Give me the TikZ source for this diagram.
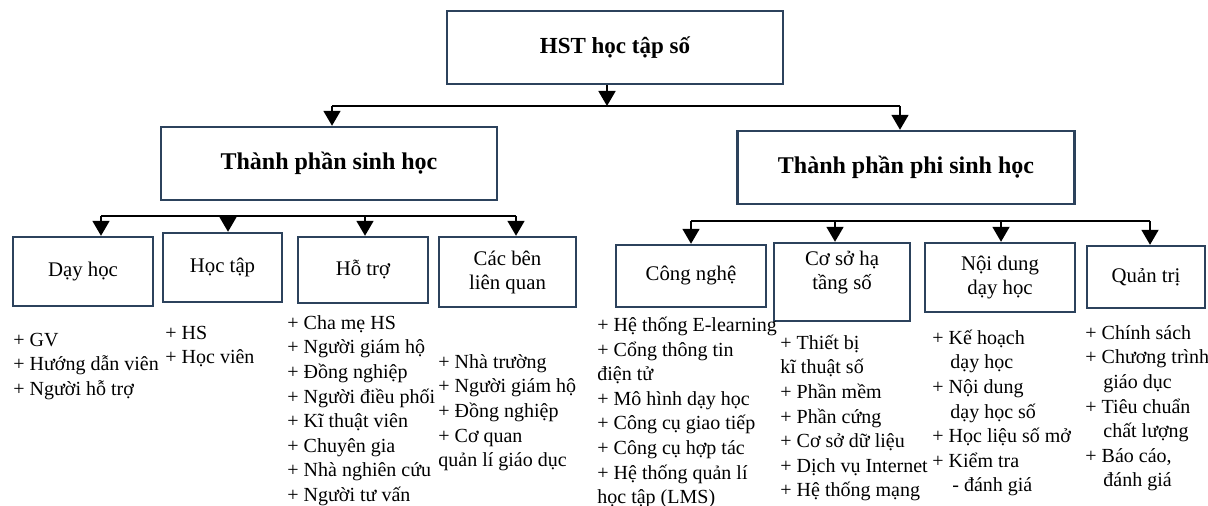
\documentclass[tikz,border=0pt]{standalone}
\usepackage{fontspec}
\setmainfont{Liberation Serif}
\usetikzlibrary{arrows.meta}
\definecolor{boxline}{RGB}{44,66,92}
\newcommand{\itemtop}{\rule{0pt}{10pt}}

\begin{document}
\begin{tikzpicture}[x=0.5pt, y=-0.5pt,
        box/.style={draw=boxline, line width=1.2pt, inner sep=0pt, align=center,
            font=\fontsize{10.4}{12}\selectfont},
        head/.style={box, font=\fontsize{12}{14}\selectfont\bfseries},
        link/.style={line width=0.9pt},
        arr/.style={link, -{Triangle[length=7.5pt, width=8.5pt]}},
        items/.style={anchor=north west, inner sep=0pt, align=left,
            font=\fontsize{10}{12.3}\selectfont}]
    \useasboundingbox (0,0) rectangle (1208,506);

    % levels 1 and 2
    \node[head, font=\fontsize{11.5}{14}\selectfont\bfseries, minimum width=168pt, minimum height=36.5pt] (top) at (615,47.5) {HST học tập số};
    \node[head, minimum width=168pt, minimum height=36.5pt] (bio) at (329,163.5) {Thành phần sinh học};
    \node[head, minimum width=168.5pt, minimum height=36.5pt] (abio) at (906,167.5) {Thành phần phi sinh học};

    % level 3, left
    \node[box, minimum width=70pt, minimum height=34.5pt] (day) at (83,271.5) {Dạy học};
    \node[box, minimum width=59.5pt, minimum height=34.5pt] (hoc) at (222.5,267.5) {Học tập};
    \node[box, minimum width=64.75pt, minimum height=33pt] (hotro) at (363,270) {Hỗ trợ};
    \node[box, minimum width=68.5pt, minimum height=35pt] (cacben) at (507.5,272) {Các bên\\liên quan};

    % level 3, right
    \node[box, minimum width=75.25pt, minimum height=31pt] (cong) at (691,276) {Công nghệ};
    \node[box, minimum width=67.75pt, minimum height=39pt] (coso) at (842,282) {Cơ sở hạ\\tầng số\\~};
    \node[box, minimum width=75pt, minimum height=34.5pt] (noidung) at (1000,277.5) {Nội dung\\dạy học};
    \node[box, minimum width=59.2pt, minimum height=31pt] (quantri) at (1146,277) {Quản trị};

    % connectors
    \coordinate (t0) at (607,106);
    \coordinate (tl) at (332,106);
    \coordinate (tr) at (900,106);
    \draw[arr] (top.south -| t0) -- (t0);
    \draw[link] (tl) -- (tr);
    \draw[arr] (tl) -- (tl |- bio.north);
    \draw[arr] (tr) -- (tr |- abio.north);

    \foreach \x/\n in {101/day, 228/hoc, 365/hotro, 516/cacben}
        \coordinate (b\n) at (\x,216);
    \draw[link] (bday) -- (bcacben);
    \foreach \n in {day, hoc, hotro, cacben}
        \draw[arr] (b\n) -- (b\n |- \n.north);

    \foreach \x/\n in {691/cong, 835/coso, 1001/noidung, 1150/quantri}
        \coordinate (b\n) at (\x,221);
    \draw[link] (bcong) -- (bquantri);
    \foreach \n in {cong, coso, noidung, quantri}
        \draw[arr] (b\n) -- (b\n |- \n.north);

    % item lists
    \node[items] (dayl) at (13,326) {\itemtop+ GV\\+ Hướng dẫn viên\\+ Người hỗ trợ};
    \node[items] (hocl) at (165,319) {\itemtop+ HS\\+ Học viên};
    \node[items] (hotrol) at (287,309) {\itemtop+ Cha mẹ HS\\+ Người giám hộ\\+ Đồng nghiệp\\+ Người điều phối\\+ Kĩ thuật viên\\+ Chuyên gia\\+ Nhà nghiên cứu\\+ Người tư vấn};
    \node[items] (cacbenl) at (438,348) {\itemtop+ Nhà trường\\+ Người giám hộ\\+ Đồng nghiệp\\+ Cơ quan\\quản lí giáo dục};
    \node[items] (congl) at (597,311) {\itemtop+ Hệ thống E-learning\\+ Cổng thông tin\\điện tử\\+ Mô hình dạy học\\+ Công cụ giao tiếp\\+ Công cụ hợp tác\\+ Hệ thống quản lí\\học tập (LMS)};
    \node[items] (cosol) at (780,329) {\itemtop+ Thiết bị\\kĩ thuật số\\+ Phần mềm\\+ Phần cứng\\+ Cơ sở dữ liệu\\+ Dịch vụ Internet\\+ Hệ thống mạng};
    \node[items] (noidungl) at (932,324) {\itemtop+ Kế hoạch\\\hspace*{9pt}dạy học\\+ Nội dung\\\hspace*{9pt}dạy học số\\+ Học liệu số mở\\+ Kiểm tra\\\hspace*{10pt}- đánh giá};
    \node[items] (quantril) at (1085,319) {\itemtop+ Chính sách\\+ Chương trình\\\hspace*{9pt}giáo dục\\+ Tiêu chuẩn\\\hspace*{9pt}chất lượng\\+ Báo cáo,\\\hspace*{9pt}đánh giá};
\end{tikzpicture}
\end{document}
